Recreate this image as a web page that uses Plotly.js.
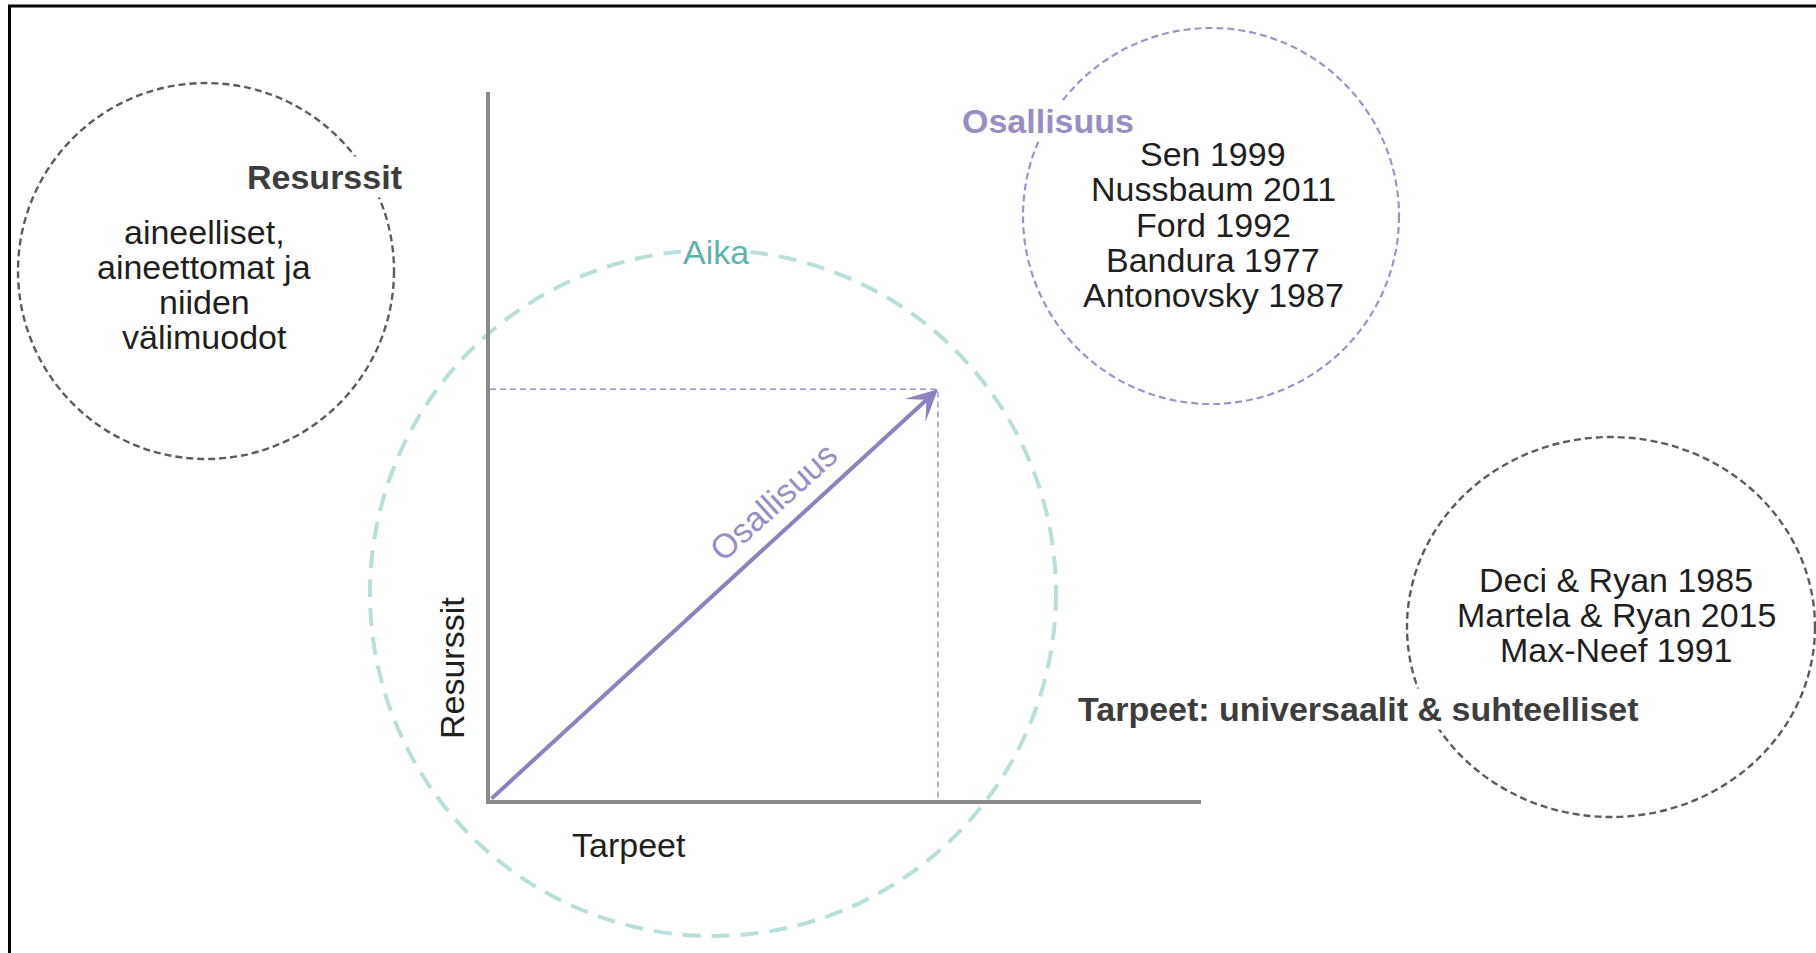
<!DOCTYPE html>
<html>
<head>
<meta charset="utf-8">
<script src="https://cdn.plot.ly/plotly-3.0.1.min.js"></script>
<style>
  html, body { margin: 0; padding: 0; background: #ffffff; }
  #chart { width: 1816px; height: 953px; }
</style>
</head>
<body>
<div id="chart"></div>
<script>
// ---------- data ----------
const axisLabels = ['Tarpeet', 'Resurssit'];
const arrowLabel = 'Osallisuus';
const tarpeetValue = 0.63;
const resurssitValue = 0.58;
const timeLabel = 'Aika';
const resourceTitle = 'Resurssit';
const resourceLines = ['aineelliset,', 'aineettomat ja', 'niiden', 'välimuodot'];
const participationTitle = 'Osallisuus';
const participationRefs = ['Sen 1999', 'Nussbaum 2011', 'Ford 1992', 'Bandura 1977', 'Antonovsky 1987'];
const needsTitle = 'Tarpeet: universaalit & suhteelliset';
const needsRefs = ['Deci & Ryan 1985', 'Martela & Ryan 2015', 'Max-Neef 1991'];

// ---------- layout helpers ----------
const W = 1816, H = 953;
const px = x => x / W;
const py = y => 1 - y / H;
const FONT = '"Liberation Sans", Arial, Helvetica, sans-serif';
const PURPLE = '#8f81bf';
const PURPLE_LIGHT = '#a193c9';
const TEAL_TEXT = '#5db4ab';
const TEAL_LINE = '#b9dedb';
const GRAY_CIRCLE = '#5c5c5c';
const DARK = '#1f1f1f';
const BOLD_GRAY = '#3d3d3d';

function circle(cx, cy, rx, ry, color, width, dash) {
  return {
    type: 'circle', xref: 'paper', yref: 'paper',
    x0: px(cx - rx), x1: px(cx + rx), y0: py(cy + ry), y1: py(cy - ry),
    line: { color: color, width: width, dash: dash },
    fillcolor: 'rgba(0,0,0,0)', layer: 'below'
  };
}
function label(text, x, y, opts) {
  opts = opts || {};
  return Object.assign({
    text: text, xref: 'paper', yref: 'paper', x: px(x), y: py(y),
    xanchor: 'center', yanchor: 'middle', showarrow: false,
    font: { family: FONT, size: 34, color: DARK }
  }, opts);
}

const shapes = [
  circle(206, 271, 188, 188, GRAY_CIRCLE, 2.4, '7px,4px'),
  circle(1211, 216, 188, 188, PURPLE_LIGHT, 2.2, '7px,4px'),
  circle(1611, 627, 204, 190, GRAY_CIRCLE, 2.4, '7px,4px'),
  circle(713, 593, 343, 343, TEAL_LINE, 4, '18px,11px'),
  // frame
  { type: 'line', xref: 'paper', yref: 'paper', x0: px(8), x1: 1, y0: py(6), y1: py(6), line: { color: '#000', width: 3 } },
  { type: 'line', xref: 'paper', yref: 'paper', x0: px(9.5), x1: px(9.5), y0: py(5), y1: 0, line: { color: '#000', width: 3 } }
];

const annotations = [];
// arrow (Osallisuus vector)
annotations.push({
  xref: 'x', yref: 'y', axref: 'x', ayref: 'y',
  x: tarpeetValue, y: resurssitValue, ax: 0, ay: 0,
  text: '', showarrow: true, arrowhead: 3, arrowsize: 1.3, arrowwidth: 4,
  arrowcolor: PURPLE, standoff: 0, startstandoff: 0
});
annotations.push(label(arrowLabel, 773, 502, { textangle: -42, font: { family: FONT, size: 34, color: '#9a8dc6' } }));
annotations.push(label(axisLabels[0], 629, 845));
annotations.push(label(axisLabels[1], 452, 668, { textangle: -90 }));
annotations.push(label(timeLabel, 716, 252, { bgcolor: '#ffffff', font: { family: FONT, size: 34, color: TEAL_TEXT } }));

annotations.push(label('<b>' + resourceTitle + '</b>', 324, 177, { bgcolor: '#ffffff', font: { family: FONT, size: 34, color: BOLD_GRAY } }));
resourceLines.forEach((t, i) => annotations.push(label(t, 204, 232 + i * 35)));

annotations.push(label('<b>' + participationTitle + '</b>', 1048, 121, { bgcolor: '#ffffff', font: { family: FONT, size: 34, color: '#9a8dc6' } }));
participationRefs.forEach((t, i) => annotations.push(label(t, 1213, 154 + i * 35.3)));

annotations.push(label('<b>' + needsTitle + '</b>', 1358, 709, { bgcolor: '#ffffff', font: { family: FONT, size: 34, color: BOLD_GRAY } }));
needsRefs.forEach((t, i) => annotations.push(label(t, 1616, 580 + i * 35)));

const traces = [
  {
    type: 'scatter', mode: 'lines',
    x: [0, tarpeetValue, tarpeetValue], y: [resurssitValue, resurssitValue, 0],
    line: { color: PURPLE_LIGHT, width: 1.5, dash: '6px,4px' },
    hoverinfo: 'skip', cliponaxis: false
  }
];

const axisCommon = {
  range: [0, 1], showline: true, linewidth: 4, linecolor: '#8a8a8a',
  showgrid: false, zeroline: false, showticklabels: false, ticks: '', fixedrange: true
};

const layout = {
  width: W, height: H,
  margin: { l: 0, r: 0, t: 0, b: 0, pad: 0 },
  paper_bgcolor: '#ffffff', plot_bgcolor: 'rgba(0,0,0,0)',
  showlegend: false,
  xaxis: Object.assign({ domain: [px(490), px(1201)] }, axisCommon),
  yaxis: Object.assign({ domain: [py(800), py(92)] }, axisCommon),
  shapes: shapes,
  annotations: annotations
};

Plotly.newPlot('chart', traces, layout, { displayModeBar: false, staticPlot: true });
</script>
</body>
</html>
